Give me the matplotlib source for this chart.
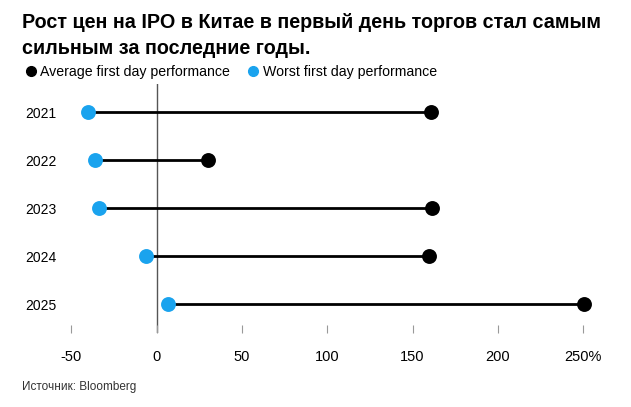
import matplotlib
matplotlib.use("Agg")
import matplotlib.pyplot as plt
from matplotlib.lines import Line2D

years = ["2021", "2022", "2023", "2024", "2025"]
average = [160.5, 30, 161.5, 159.5, 250.5]
worst = [-40, -36, -34, -6.5, 6.5]
xticks = [-50, 0, 50, 100, 150, 200, 250]
xticklabels = ["-50", "0", "50", "100", "150", "200", "250%"]

W, H = 631, 407
fig = plt.figure(figsize=(W / 100, H / 100), dpi=100)
plt.rcParams['font.family'] = ['Liberation Sans', 'DejaVu Sans']

BLUE = "#1aa3ee"

left_px, right_px = 65, 600
top_px, bot_px = 84, 333
ax = fig.add_axes([left_px / W, 1 - bot_px / H, (right_px - left_px) / W, (bot_px - top_px) / H])

px_per_unit = 85.3 / 50
zero_px = 156.7
ax.set_xlim((left_px - zero_px) / px_per_unit, (right_px - zero_px) / px_per_unit)

ypos = list(range(len(years)))
step = 48
ax.set_ylim(bottom=(bot_px - 112) / step, top=-(112 - top_px) / step)

for s in ax.spines.values():
    s.set_visible(False)

ax.axvline(0, color="#555555", lw=1.0, zorder=1)

for i in ypos:
    ax.plot([worst[i], average[i]], [i, i], color="black", lw=2.0, zorder=2, solid_capstyle="butt")
ax.scatter(average, ypos, s=115, color="black", zorder=3, linewidths=0)
ax.scatter(worst, ypos, s=115, color=BLUE, zorder=3, linewidths=0)

ax.set_yticks(ypos)
ax.set_yticklabels(years, fontsize=10)
ax.tick_params(axis="y", length=0, pad=6)
ax.set_xticks(xticks)
ax.set_xticklabels(xticklabels, fontsize=10.5)
ax.tick_params(axis="x", direction="in", length=6, width=0.8, color="#999999", pad=12)

fig.text(22 / W, 1 - 23 / H, "Рост цен на IPO в Китае в первый день торгов стал самым",
         fontsize=14.2, fontweight="bold", va="center", ha="left")
fig.text(22 / W, 1 - 49 / H, "сильным за последние годы.",
         fontsize=14.2, fontweight="bold", va="center", ha="left")

handles = [Line2D([], [], marker="o", ls="", color="black", markersize=7),
           Line2D([], [], marker="o", ls="", color=BLUE, markersize=7)]
fig.legend(handles, ["Average first day performance", "Worst first day performance"],
           loc="center left", bbox_to_anchor=(15 / W, 1 - 72 / H), ncol=2, frameon=False,
           fontsize=10.2, handletextpad=0.1, columnspacing=1.0, handlelength=1.2, borderpad=0)

fig.text(22 / W, 1 - 387 / H, "Источник: Bloomberg", fontsize=8.5, color="#333333",
         va="center", ha="left")

fig.savefig("out.png", dpi=100)
